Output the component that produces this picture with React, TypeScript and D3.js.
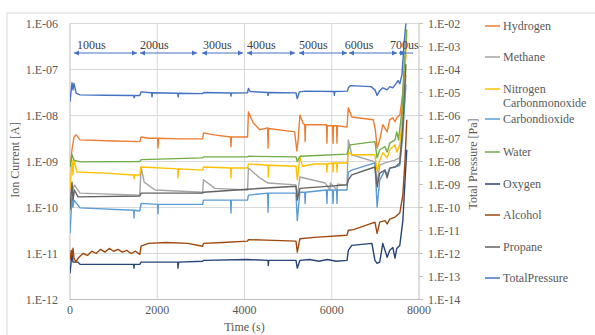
import React from "react";
import * as d3 from "d3";

type P = [number, number];

const xTicks = [0, 2000, 4000, 6000, 8000];
const leftTicks = [1e-6, 1e-7, 1e-8, 1e-9, 1e-10, 1e-11, 1e-12];
const rightTicks = [1e-2, 1e-3, 1e-4, 1e-5, 1e-6, 1e-7, 1e-8, 1e-9, 1e-10, 1e-11, 1e-12, 1e-13, 1e-14];

const phaseLabels = ["100us", "200us", "300us", "400us", "500us", "600us", "700us"];
const phaseLabelT = [160, 1605, 3050, 4057, 5250, 6300, 7335];
const phaseStart = [92, 1605, 3026, 4057, 5249, 6395, 7541];
const phaseEnd = [1536, 2911, 3966, 5157, 6350, 7495, 7679];

const hydrogen: P[] = [
  [0, 7.6e-10], [46, 1.8e-9], [92, 3.4e-9], [140, 3.8e-9], [230, 2.95e-9], [1000, 2.8e-9], [1600, 2.7e-9],
  [1630, 3.4e-9], [1800, 3.2e-9], [2010, 3.2e-9], [2017, 1.97e-9], [2030, 3.2e-9], [2500, 3.1e-9], [3040, 3.1e-9],
  [3060, 4.2e-9], [3300, 3.8e-9], [3680, 3.4e-9], [3690, 2.1e-9], [3700, 3.4e-9], [4070, 3.4e-9],
  [4090, 1.2e-8], [4200, 6.9e-9], [4350, 4.9e-9], [4530, 5.4e-9], [4540, 1.97e-9], [4550, 5.2e-9], [5150, 4.4e-9],
  [5200, 1.7e-9], [5230, 2.95e-9], [5270, 1.02e-8], [5340, 6.9e-9], [5380, 6.3e-9], [5390, 2.7e-9], [5400, 6.3e-9],
  [5880, 6.3e-9], [5890, 2.5e-9], [5900, 6.0e-9], [6020, 6.0e-9], [6030, 2.5e-9], [6040, 6.0e-9],
  [6110, 6.0e-9], [6120, 2.5e-9], [6130, 6.0e-9], [6350, 5.6e-9], [6380, 1.48e-8], [6460, 9.3e-9], [6950, 8.1e-9],
  [7000, 4.9e-9], [7040, 1.97e-9], [7100, 2.95e-9], [7170, 6.3e-9], [7270, 4.4e-9], [7330, 8.1e-9], [7400, 8.9e-9],
  [7450, 7.3e-9], [7490, 8.9e-9], [7560, 1.02e-8], [7610, 2.2e-8], [7655, 6e-8], [7700, 2.1e-7],
];

const methane: P[] = [
  [0, 1.45e-10], [46, 3.1e-10], [69, 2.4e-10], [100, 3.1e-10], [230, 2.05e-10], [1600, 1.86e-10],
  [1630, 7.6e-10], [1700, 3.55e-10], [1950, 2.4e-10], [3040, 2.15e-10], [3060, 4.0e-10], [3320, 2.6e-10],
  [4070, 2.4e-10], [4090, 7.2e-10], [4350, 4.4e-10], [4540, 3.4e-10], [5180, 3.1e-10], [5210, 1.7e-10],
  [5270, 4.6e-10], [5850, 3.4e-10], [5960, 2.4e-10], [5970, 3.4e-10], [6120, 2.4e-10], [6130, 3.2e-10],
  [6350, 3.1e-10], [6380, 2.95e-9], [6460, 1.4e-9], [6990, 9.8e-10], [7040, 3.4e-10], [7100, 8.3e-10],
  [7220, 9.3e-10], [7450, 1.07e-9], [7560, 1.2e-9], [7630, 5.6e-9], [7700, 7.7e-8],
];

const nitrogen: P[] = [
  [0, 2.4e-10], [46, 1.07e-9], [69, 5.1e-10], [92, 1.07e-9], [160, 5.9e-10], [800, 5.6e-10], [1460, 5.1e-10],
  [1470, 4.2e-10], [1480, 5.1e-10], [1600, 5.1e-10], [1630, 7.6e-10], [2470, 6.9e-10], [2475, 4.4e-10],
  [2490, 6.9e-10], [3040, 6.5e-10], [3060, 7.6e-10], [3680, 7.2e-10], [3690, 4.4e-10], [3700, 7.2e-10],
  [4070, 7.2e-10], [4090, 8.9e-10], [4540, 8.3e-10], [4545, 4.6e-10], [4555, 8.3e-10], [5180, 7.9e-10],
  [5210, 4.0e-10], [5270, 1.26e-9], [5330, 7.9e-10], [5600, 8.8e-10], [5880, 8.8e-10], [5890, 5.9e-10],
  [5900, 8.8e-10], [6020, 9.3e-10], [6030, 5.9e-10], [6040, 9.3e-10], [6110, 9.3e-10], [6120, 5.9e-10],
  [6130, 9.3e-10], [6350, 9.3e-10], [6380, 1.6e-9], [6460, 1.4e-9], [6990, 1.4e-9], [7040, 5.9e-10],
  [7100, 1.07e-9], [7170, 1.55e-9], [7270, 1.2e-9], [7330, 1.8e-9], [7450, 2.3e-9], [7490, 1.6e-9],
  [7560, 2.3e-9], [7610, 8.1e-9], [7660, 6e-8], [7720, 5.8e-7],
];

const carbondioxide: P[] = [
  [0, 2.75e-11], [46, 1.7e-10], [69, 1.02e-10], [92, 1.45e-10], [230, 9.8e-11], [1460, 8.7e-11], [1467, 5.9e-11],
  [1475, 8.7e-11], [1600, 8.4e-11], [1630, 1.23e-10], [2010, 1.17e-10], [2017, 7.3e-11], [2025, 1.17e-10],
  [3040, 1.17e-10], [3060, 1.45e-10], [3680, 1.45e-10], [3690, 7.6e-11], [3700, 1.45e-10], [4070, 1.45e-10],
  [4090, 1.86e-10], [4530, 2.05e-10], [4540, 7.9e-11], [4550, 2.05e-10], [5180, 2.05e-10], [5210, 5.2e-11],
  [5270, 2.15e-10], [5380, 2.15e-10], [5390, 1.23e-10], [5400, 2.15e-10], [5880, 2.4e-10], [5890, 1.23e-10],
  [5900, 2.4e-10], [6020, 2.4e-10], [6030, 1.23e-10], [6040, 2.4e-10], [6110, 2.4e-10], [6120, 1.23e-10],
  [6130, 2.4e-10], [6350, 2.4e-10], [6380, 5.9e-10], [6460, 6.5e-10], [6990, 9.3e-10], [7040, 1.02e-10],
  [7100, 4.0e-10], [7220, 6.5e-10], [7270, 5.1e-10], [7330, 7.2e-10], [7450, 7.6e-10], [7560, 8.3e-10],
  [7630, 3.8e-9], [7700, 4.7e-8],
];

const water: P[] = [
  [0, 7.6e-10], [46, 1.4e-9], [92, 1.07e-9], [230, 9.8e-10], [1600, 1.0e-9], [1630, 1.1e-9], [3040, 1.2e-9],
  [3060, 1.26e-9], [4070, 1.26e-9], [4090, 1.3e-9], [5180, 1.26e-9], [5210, 1.0e-9], [5270, 1.3e-9],
  [6350, 1.45e-9], [6420, 2.3e-9], [6990, 2.7e-9], [7040, 1.2e-9], [7100, 1.8e-9], [7220, 2.1e-9],
  [7270, 1.6e-9], [7330, 2.5e-9], [7450, 2.95e-9], [7490, 4.4e-9], [7530, 2.95e-9], [7610, 1.3e-8],
  [7655, 1e-7], [7720, 7.4e-7],
];

const oxygen: P[] = [
  [0, 3.7e-12], [46, 1.0e-11], [69, 6.5e-12], [183, 6.5e-12], [230, 5.8e-12], [1460, 5.8e-12], [1467, 4.8e-12],
  [1475, 5.8e-12], [1600, 5.8e-12], [1630, 6.5e-12], [2470, 6.5e-12], [2475, 4.8e-12], [2490, 6.5e-12],
  [3040, 6.8e-12], [3060, 7.1e-12], [4070, 7.4e-12], [4540, 7.1e-12], [4545, 5.5e-12], [4555, 7.1e-12],
  [5180, 7.1e-12], [5210, 4.8e-12], [5270, 7.1e-12], [5500, 7.4e-12], [5700, 6.8e-12], [5900, 7.4e-12],
  [6100, 6.8e-12], [6350, 7.1e-12], [6380, 1.17e-11], [6460, 1.5e-11], [6920, 1.66e-11], [6990, 7.1e-12],
  [7040, 6.1e-12], [7100, 6.5e-12], [7170, 1.66e-11], [7270, 8.3e-12], [7330, 1.17e-11], [7400, 1.35e-11],
  [7450, 7.9e-12], [7490, 1.29e-11], [7560, 1.5e-11], [7630, 5.2e-11], [7680, 4.0e-10], [7720, 1.8e-9],
];

const alcohol: P[] = [
  [0, 7.1e-12], [30, 1.17e-11], [46, 8.7e-12], [69, 1.3e-11], [92, 7.9e-12], [140, 6.5e-12], [183, 7.9e-12],
  [230, 8.7e-12], [300, 1.0e-11], [400, 9.1e-12], [500, 1.12e-11], [600, 1.0e-11], [700, 1.23e-11],
  [800, 1.07e-11], [900, 1.29e-11], [1000, 1.12e-11], [1100, 1.23e-11], [1200, 1.07e-11], [1300, 1.17e-11],
  [1400, 1.0e-11], [1500, 1.12e-11], [1600, 9.6e-12], [1630, 1.44e-11], [1800, 1.66e-11], [2200, 1.74e-11],
  [2700, 1.66e-11], [3040, 1.44e-11], [3060, 1.66e-11], [3500, 1.74e-11], [4070, 1.86e-11], [4090, 2.0e-11],
  [4500, 1.95e-11], [5180, 1.86e-11], [5210, 1.07e-11], [5270, 2.1e-11], [5600, 2.24e-11], [6350, 2.5e-11],
  [6380, 3.2e-11], [6500, 3.3e-11], [6990, 4.8e-11], [7040, 2.75e-11], [7100, 4.8e-11], [7220, 5.2e-11],
  [7270, 4.4e-11], [7330, 5.6e-11], [7450, 6.2e-11], [7560, 7.6e-11], [7630, 1.86e-10], [7680, 1.07e-9],
  [7720, 8.1e-9],
];

const propane: P[] = [
  [0, 8.7e-11], [46, 3.55e-10], [69, 1.45e-10], [100, 2.4e-10], [183, 1.7e-10], [1600, 1.78e-10],
  [1630, 2.05e-10], [3040, 2.05e-10], [3060, 2.15e-10], [4070, 2.5e-10], [5180, 2.9e-10], [5210, 1.45e-10],
  [5270, 2.6e-10], [6350, 3.1e-10], [6380, 4.0e-10], [6460, 5.1e-10], [6990, 7.6e-10], [7040, 2.8e-10],
  [7100, 5.6e-10], [7220, 6.5e-10], [7270, 4.4e-10], [7330, 7.2e-10], [7450, 7.6e-10], [7560, 9.3e-10],
  [7630, 6.3e-9], [7700, 1.3e-7],
];

const totalPressure: P[] = [
  [0, 4.0e-6], [46, 2.7e-5], [69, 1.3e-5], [92, 2.5e-5], [140, 9.5e-6], [230, 7.9e-6], [800, 7.6e-6],
  [1460, 7.4e-6], [1470, 5.9e-6], [1490, 7.4e-6], [1600, 7.4e-6], [1630, 1.07e-5], [1870, 9.8e-6],
  [1880, 6.5e-6], [1890, 9.8e-6], [2470, 9.3e-6], [2480, 6.5e-6], [2490, 9.3e-6], [3040, 8.9e-6],
  [3060, 1.0e-5], [3680, 9.5e-6], [3690, 7.0e-6], [3700, 9.5e-6], [4070, 9.8e-6], [4090, 1.5e-5],
  [4130, 1.1e-5], [4530, 1.0e-5], [4540, 7.5e-6], [4550, 1.0e-5], [5180, 9.6e-6], [5210, 5.4e-6],
  [5260, 1.07e-5], [5390, 1.15e-5], [6050, 1.1e-5], [6060, 7.5e-6], [6070, 1.1e-5], [6360, 1.15e-5],
  [6380, 1.6e-5], [6430, 2.0e-5], [6900, 1.8e-5], [6990, 1.3e-5], [7040, 7.5e-6], [7100, 1.2e-5],
  [7170, 1.6e-5], [7270, 1.3e-5], [7330, 1.8e-5], [7400, 1.6e-5], [7490, 2.7e-5], [7520, 3.3e-5],
  [7560, 2.4e-5], [7610, 6.0e-5], [7660, 1.5e-3], [7700, 1.0e-2],
];

const seriesNames = ["Hydrogen", "Methane", "Nitrogen\nCarbonmonoxide", "Carbondioxide", "Water", "Oxygen", "Alcohol", "Propane", "TotalPressure"];
const seriesColors = ["#ED7D31", "#A5A5A5", "#FFC000", "#5B9BD5", "#70AD47", "#264478", "#9E480E", "#636363", "#4472C4"];
const seriesData = [hydrogen, methane, nitrogen, carbondioxide, water, oxygen, alcohol, propane, totalPressure];
const seriesAxis = ["left", "left", "left", "left", "left", "left", "left", "left", "right"];

const W = 595, H = 335;
const left = 70, right = 419, top = 23.5, bottom = 299.5;
const font = '"Liberation Serif"';
const txt = "#595959";
const ts: React.CSSProperties = { fontFamily: font };

export default function App() {
  const x = d3.scaleLinear().domain([0, 8000]).range([left, right]);
  const yL = d3.scaleLog().domain([1e-12, 1e-6]).range([bottom, top]);
  const yR = d3.scaleLog().domain([1e-14, 1e-2]).range([bottom, top]);
  const lineL = d3.line<P>().x((d) => x(d[0])).y((d) => yL(d[1]));
  const lineR = d3.line<P>().x((d) => x(d[0])).y((d) => yR(d[1]));
  const legendY = [26, 57, 89, 119, 152, 184, 215, 247, 278];
  const arrowY = 53;

  const arrowHead = (px: number, dir: number) => {
    const l = 5, h = 2.5;
    return `M${px},${arrowY} L${px - dir * l},${arrowY - h} L${px - dir * l},${arrowY + h} Z`;
  };

  return (
    <svg width={W} height={H} style={{ position: "absolute", left: 0, top: 0, background: "#fff", fontFamily: font }}>
      <rect x={7} y={13} width={620} height={360} fill="#fff" stroke="#D9D9D9" strokeWidth={1} />
      <defs>
        <clipPath id="plot">
          <rect x={left} y={top - 1} width={right - left} height={bottom - top + 1} />
        </clipPath>
      </defs>
      {leftTicks.map((t) => (
        <line key={"g" + t} x1={left} x2={right} y1={yL(t)} y2={yL(t)} stroke="#D9D9D9" strokeWidth={1} />
      ))}
      {xTicks.slice(1, -1).map((t) => (
        <line key={"v" + t} x1={x(t)} x2={x(t)} y1={top} y2={bottom} stroke="#D9D9D9" strokeWidth={1} />
      ))}
      <line x1={left} x2={left} y1={top} y2={bottom} stroke="#BFBFBF" />
      <line x1={left} x2={right} y1={bottom} y2={bottom} stroke="#BFBFBF" />
      <line x1={right} x2={right} y1={top} y2={bottom} stroke="#BFBFBF" />
      {rightTicks.map((t) => (
        <line key={"rt" + t} x1={right} x2={right + 4} y1={yR(t)} y2={yR(t)} stroke="#BFBFBF" />
      ))}
      {leftTicks.map((t) => (
        <text key={"lt" + t} x={58} y={yL(t) + 4} textAnchor="end" fontSize={12} fill={txt} style={ts}>
          {"1.E-" + String(Math.round(-Math.log10(t))).padStart(2, "0")}
        </text>
      ))}
      {rightTicks.map((t) => (
        <text key={"rl" + t} x={428} y={yR(t) + 4} textAnchor="start" fontSize={12} fill={txt} style={ts}>
          {"1.E-" + String(Math.round(-Math.log10(t))).padStart(2, "0")}
        </text>
      ))}
      {xTicks.map((t) => (
        <text key={"xt" + t} x={x(t)} y={314} textAnchor="middle" fontSize={12} fill={txt} style={ts}>
          {t}
        </text>
      ))}
      <text x={x(4000)} y={331} textAnchor="middle" fontSize={12} fill={txt} style={ts}>Time (s)</text>
      <text transform="translate(19,160) rotate(-90)" textAnchor="middle" fontSize={12} fill={txt} style={ts}>Ion Current [A]</text>
      <text transform="translate(477,164) rotate(-90)" textAnchor="middle" fontSize={12} fill={txt} style={ts}>Total Pressure [Pa]</text>

      <g clipPath="url(#plot)">
        {seriesData.map((d, i) => (
          <path key={"s" + i} d={(seriesAxis[i] === "left" ? lineL : lineR)(d) || ""} fill="none"
            stroke={seriesColors[i]} strokeWidth={1.4} strokeLinejoin="round" />
        ))}
      </g>

      {phaseLabels.map((lab, i) => {
        const a = x(phaseStart[i]), b = x(phaseEnd[i]);
        return (
          <g key={"ph" + i}>
            <line x1={a} x2={b} y1={arrowY} y2={arrowY} stroke="#4472C4" strokeWidth={1} />
            <path d={arrowHead(a, -1)} fill="#4472C4" />
            <path d={arrowHead(b, 1)} fill="#4472C4" />
            <text x={x(phaseLabelT[i])} y={49} fontSize={12} fill="#404040" style={ts}>{lab}</text>
          </g>
        );
      })}
      <line x1={x(7679)} x2={x(7862)} y1={arrowY} y2={arrowY} stroke="#4472C4" strokeWidth={1} />

      {seriesNames.map((n, i) => (
        <g key={"lg" + i}>
          <line x1={485} x2={500} y1={legendY[i]} y2={legendY[i]} stroke={seriesColors[i]} strokeWidth={1.5} />
          {n.split("\n").map((part, j) => (
            <text key={j} x={503} y={legendY[i] + 4 + j * 14} fontSize={12} fill={txt} style={ts}>{part}</text>
          ))}
        </g>
      ))}
    </svg>
  );
}
